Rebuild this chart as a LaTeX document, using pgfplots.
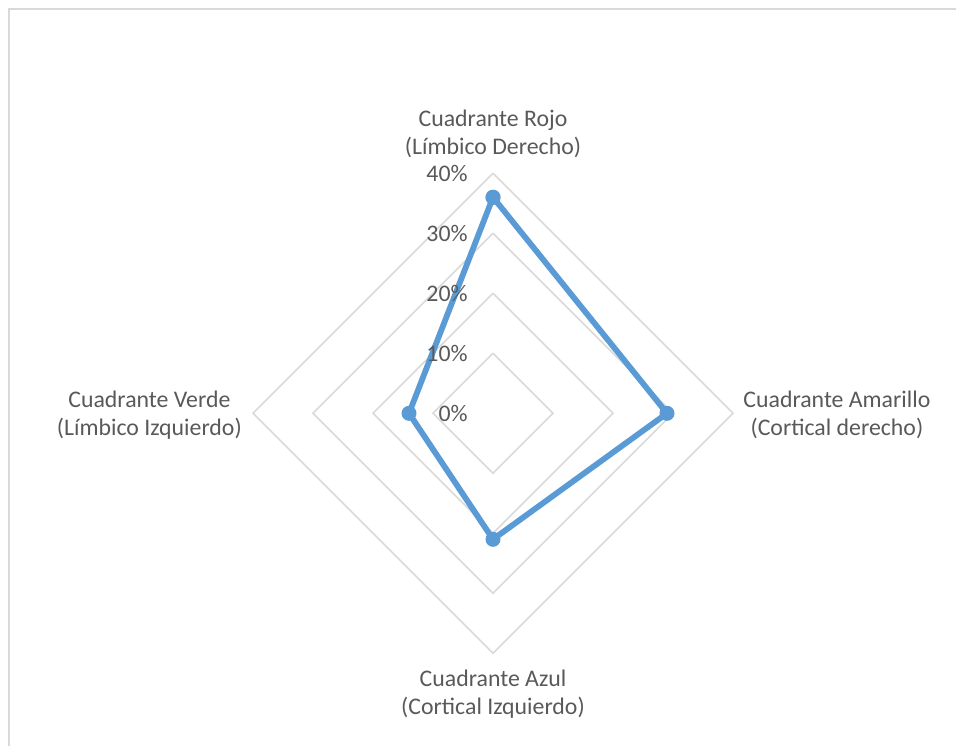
\documentclass[border=0pt]{standalone}
\usepackage{fontspec}
\setmainfont{Carlito}
\usepackage{pgfplots}
\pgfplotsset{compat=1.18}
\definecolor{seriesblue}{HTML}{5B9BD5}
\definecolor{gridgray}{HTML}{D9D9D9}
\definecolor{labelgray}{HTML}{595959}

\begin{document}
\begin{tikzpicture}[txt/.style={text=labelgray, inner sep=0pt, font=\fontsize{11.9pt}{14pt}\selectfont}]
\useasboundingbox (0,0) rectangle (478pt,373pt);
% chart frame (top and left edges)
\draw[gridgray, line width=1pt] (4.5pt,0) -- (4.5pt,368.5pt) -- (478pt,368.5pt);
\begin{axis}[
  at={(246.5pt,166.35pt)}, anchor=center,
  x=3pt, y=3pt, xmin=-40, xmax=40, ymin=-40, ymax=40,
  axis lines=none, clip=false, scale only axis,
]
% radial gridlines (10% steps)
\addplot[gridgray, line width=0.8pt, line join=miter] coordinates {(0,10) (10,0) (0,-10) (-10,0) (0,10)};
\addplot[gridgray, line width=0.8pt, line join=miter] coordinates {(0,20) (20,0) (0,-20) (-20,0) (0,20)};
\addplot[gridgray, line width=0.8pt, line join=miter] coordinates {(0,30) (30,0) (0,-30) (-30,0) (0,30)};
\addplot[gridgray, line width=0.8pt, line join=miter] coordinates {(0,40) (40,0) (0,-40) (-40,0) (0,40)};

% series: Rojo 36%, Amarillo 29%, Azul 21%, Verde 14%
\addplot[seriesblue, line width=2.9pt, line join=round,
  mark=*, mark size=3.5pt, mark options={fill=seriesblue, line width=0.5pt}]
  coordinates {(0,36) (29,0) (0,-21) (-14,0) (0,36)};

% value axis labels
\node[txt, anchor=east, xshift=-12.5pt] at (axis cs:0,0) {0\%};
\node[txt, anchor=east, xshift=-12.5pt] at (axis cs:0,10) {10\%};
\node[txt, anchor=east, xshift=-12.5pt] at (axis cs:0,20) {20\%};
\node[txt, anchor=east, xshift=-12.5pt] at (axis cs:0,30) {30\%};
\node[txt, anchor=east, xshift=-12.5pt] at (axis cs:0,40) {40\%};

% category labels
\node[txt, align=center, anchor=center] at (axis cs:0,46.5) {Cuadrante Rojo\\(Límbico Derecho)};
\node[txt, align=center, anchor=west] at (axis cs:41.67,-0.3) {Cuadrante Amarillo\\(Cortical derecho)};
\node[txt, align=center, anchor=center] at (axis cs:0,-46.8) {Cuadrante Azul\\(Cortical Izquierdo)};
\node[txt, align=center, anchor=east] at (axis cs:-41.8,-0.3) {Cuadrante Verde\\(Límbico Izquierdo)};
\end{axis}
\end{tikzpicture}
\end{document}
